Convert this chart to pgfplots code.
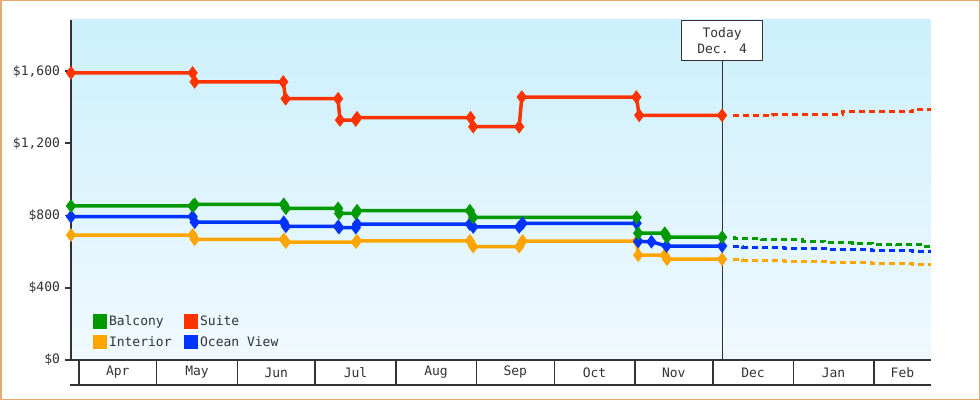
\documentclass[border=0pt]{standalone}
\usepackage{pgfplots}
\pgfplotsset{compat=1.18}
\usepackage{fontspec}
\setmainfont{DejaVu Sans Mono}
\definecolor{cgreen}{RGB}{0,153,0}
\definecolor{cred}{RGB}{255,51,0}
\definecolor{corange}{RGB}{255,165,0}
\definecolor{cblue}{RGB}{0,51,255}
\definecolor{cdark}{RGB}{51,51,51}
\definecolor{cborder}{RGB}{230,170,110}
\definecolor{bgtop}{RGB}{204,240,252}
\definecolor{bgbot}{RGB}{240,249,255}
\begin{document}
\begin{tikzpicture}
\fill[white] (0,0) rectangle (980bp,400bp);
\draw[cborder, line width=1.5bp] (0.75bp,0.75bp) rectangle (979.25bp,399.25bp);
\begin{axis}[
  at={(71bp,40bp)}, anchor=south west,
  scale only axis, width=860bp, height=340bp,
  xmin=-3, xmax=328, ymin=0, ymax=1883,
  clip=false,
  axis x line*=bottom, axis y line*=left,
  axis line style={-, cdark, line width=1.8bp},
  axis background/.style={top color=bgtop, bottom color=bgbot},
  font=\fontsize{13bp}{16bp}\selectfont,
  ytick={0,400,800,1200,1600},
  yticklabels={{\$0},{\$400},{\$800},{\$1,200},{\$1,600}},
  tick align=outside, major tick length=6bp,
  ytick style={cdark, line width=1.8bp},
  y tick label style={text=cdark},
  xtick={15,45.5,76,106.5,137.5,168,198.5,229,259.5,290.5,317},
  xticklabels={Apr,May,Jun,Jul,Aug,Sep,Oct,Nov,Dec,Jan,Feb},
  xtick style={draw=none},
  x tick label style={text=cdark, anchor=center, yshift=-6.5bp},
  legend columns=2,
  legend cell align=left,
  legend style={draw=none, fill=none, inner sep=0pt, row sep=5bp,
    at={(axis description cs:0.023,0.025)}, anchor=south west,
    font=\fontsize{13bp}{16bp}\selectfont, text=cdark,
    /tikz/every even column/.append style={column sep=10bp}},
  line width=3.5bp,
]
% month boxes
\pgfplotsinvokeforeach{0,30,61,91,122,153,183,214,244,275,306}{
  \draw[cdark, line width=1.5bp] (axis cs:#1,0) -- ([yshift=-25bp]axis cs:#1,0);
}
\draw[cdark, line width=1.5bp] ([xshift=-1bp,yshift=-25bp]rel axis cs:0,0) -- ([yshift=-25bp]rel axis cs:1,0);
% today marker
\draw[cdark, line width=1bp] (axis cs:247.6,0) -- (axis cs:247.6,1883);
\node[draw=cdark, fill=white, line width=1bp, anchor=north, minimum width=81bp,
  minimum height=40bp, align=center, inner sep=0pt, text=cdark,
  font=\fontsize{13bp}{16.5bp}\selectfont] at (axis cs:247.6,1883) {Today\\Dec. 4};

\addlegendimage{legend image code/.code={\fill[cgreen] (0bp,-5.5bp) rectangle (11bp,5.5bp);}}
\addlegendentry{Balcony}
\addlegendimage{legend image code/.code={\fill[cred] (0bp,-5.5bp) rectangle (11bp,5.5bp);}}
\addlegendentry{Suite}
\addlegendimage{legend image code/.code={\fill[corange] (0bp,-5.5bp) rectangle (11bp,5.5bp);}}
\addlegendentry{Interior}
\addlegendimage{legend image code/.code={\fill[cblue] (0bp,-5.5bp) rectangle (11bp,5.5bp);}}
\addlegendentry{Ocean View}

% Interior
\addplot[forget plot, corange, mark=diamond*, mark size=4bp, mark options={solid}] coordinates {
(-3,692) (43.8,692) (44.6,668) (78.9,668) (79.7,653) (106.6,653) (107.1,660)
(150.5,660) (151.8,628) (169.5,628) (170.8,659) (214.7,659) (215.3,581)
(225.5,581) (226.4,558) (247.6,558)};
\addplot[forget plot, corange, const plot, line width=3bp, dash pattern=on 6bp off 4bp] coordinates {
(251.7,558) (255.6,552) (271.8,547) (287.9,541) (305.2,535) (321,530) (328,530)};
% Ocean View
\addplot[forget plot, cblue, mark=diamond*, mark size=4bp, mark options={solid}] coordinates {
(-3,794) (43.8,794) (44.6,763) (78.9,763) (79.7,740) (99.8,740) (100.2,733)
(106.6,733) (107.1,753) (150.5,753) (151.8,737) (169.5,737) (170.8,757)
(214.7,757) (215.3,657) (220.4,655) (226.2,631) (247.6,631)};
\addplot[forget plot, cblue, const plot, line width=3bp, dash pattern=on 6bp off 4bp] coordinates {
(251.7,630) (255.6,624) (271.8,618) (287.9,613) (305.2,607) (321,602) (328,602)};
% Balcony
\addplot[forget plot, cgreen, mark=diamond*, mark size=4bp, mark options={solid}] coordinates {
(-3,853) (43.8,853) (44.6,862) (78.9,862) (79.7,840) (99.8,840) (100.2,812)
(106.6,812) (107.1,827) (150.5,827) (151.8,790) (214.7,790) (215.3,702)
(225.5,702) (226.4,680) (247.6,680)};
\addplot[forget plot, cgreen, const plot, line width=3bp, dash pattern=on 6bp off 4bp] coordinates {
(251.7,677) (252.5,674) (262.9,668) (278.7,659) (287.1,652) (297.9,646)
(305.6,642) (314.9,637) (324.5,630) (328,630)};
% Suite
\addplot[forget plot, cred, mark=diamond*, mark size=4bp, mark options={solid}] coordinates {
(-3,1590) (43.8,1590) (44.6,1540) (78.7,1540) (79.6,1447) (99.8,1447)
(100.5,1329) (106.6,1329) (107.1,1342) (150.8,1342) (151.8,1292) (169.5,1292)
(170.5,1456) (214.6,1456) (215.7,1355) (247.6,1355)};
\addplot[forget plot, cred, const plot, line width=3bp, dash pattern=on 6bp off 4bp] coordinates {
(251.7,1355) (267.1,1362) (294,1377) (321,1388) (328,1388)};
\end{axis}
\end{tikzpicture}
\end{document}
